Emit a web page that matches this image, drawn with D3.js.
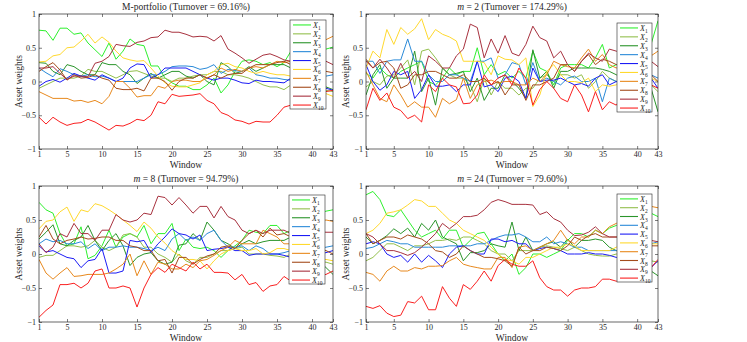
<!DOCTYPE html>
<meta charset="utf-8">
<html>
<head>
<script src="https://d3js.org/d3.v7.min.js"></script>
<style>
  body { margin: 0; background: #fff; }
  svg text { font-family: "Liberation Serif", "DejaVu Serif", "Times New Roman", serif !important; fill: #262626; }
</style>
</head>
<body>
<div id="chart"></div>
<script>

// windows 1..43
const windows = d3.range(1, 44);
const xTicks = [1, 5, 10, 15, 20, 25, 30, 35, 40, 43];
const yTicks = [-1, -0.5, 0, 0.5, 1];
const assetNames = ["1","2","3","4","5","6","7","8","9","10"];
const colors = ["#2ef02e","#93bf4c","#2b952b","#2a8ad8","#1c1cf5","#ffd92e","#e8891e","#a44c1c","#a8323f","#fa2020"];
const serif = '"Liberation Serif", "DejaVu Serif", serif';

// M-portfolio weights, X1..X10
const mPortfolio = [
  [0.76,0.75,0.61,0.79,0.79,0.70,0.72,0.57,0.47,0.37,0.57,0.33,0.45,0.63,0.55,0.53,0.23,0.23,0.05,-0.02,-0.07,-0.07,-0.12,-0.12,-0.05,0.05,-0.17,-0.05,0.15,0.30,0.32,0.30,0.25,0.28,0.22,0.28,0.45,0.42,0.40,0.44,0.46,0.48,0.51],
  [-0.10,-0.05,0.00,0.05,0.05,0.05,0.08,0.18,0.15,0.15,0.10,0.05,0.10,0.15,0.16,0.12,0.08,0.05,0.05,0.00,0.05,0.05,0.08,0.10,0.10,0.15,0.15,0.10,0.10,0.08,0.05,0.00,-0.05,-0.08,-0.08,-0.12,-0.05,-0.08,-0.10,-0.12,-0.10,-0.13,-0.15],
  [0.28,0.27,0.15,0.10,0.25,0.22,0.15,0.10,0.10,0.28,0.25,0.25,0.15,0.10,-0.03,0.05,0.12,0.05,0.10,0.15,0.15,0.08,0.05,0.10,0.00,-0.05,0.28,0.22,0.12,0.15,0.22,0.15,0.20,0.25,0.25,0.25,0.20,0.12,0.05,0.00,-0.05,-0.08,-0.12],
  [0.20,0.13,0.07,0.19,0.15,0.10,0.08,0.10,0.07,0.08,0.05,0.00,0.00,0.00,0.00,0.05,0.10,0.10,0.15,0.22,0.23,0.23,0.22,0.18,0.20,0.25,0.12,0.18,0.16,0.15,0.20,0.10,0.08,0.05,0.05,0.03,0.02,0.03,0.05,0.06,0.08,0.08,0.10],
  [-0.07,0.00,0.03,-0.01,0.05,0.12,0.08,0.05,0.02,0.10,0.05,0.00,0.05,0.20,0.26,0.25,0.05,0.10,0.20,0.20,0.20,0.20,0.15,0.10,0.05,0.02,0.05,0.05,0.02,-0.02,-0.03,0.02,0.00,0.00,-0.01,-0.02,0.05,0.02,-0.02,-0.05,-0.08,-0.10,-0.13],
  [0.29,0.30,0.38,0.40,0.50,0.51,0.60,0.70,0.57,0.66,0.58,0.45,0.35,0.32,0.30,0.31,0.20,0.08,-0.02,-0.07,-0.08,-0.08,-0.05,-0.02,0.10,0.15,0.25,0.27,0.22,0.20,0.15,0.12,0.15,0.12,0.10,0.10,0.08,0.02,-0.05,-0.10,-0.15,-0.18,-0.22],
  [-0.15,-0.20,-0.25,-0.25,-0.25,-0.29,-0.28,-0.31,-0.28,-0.33,-0.22,0.00,0.00,-0.10,-0.23,-0.21,-0.21,-0.07,-0.10,0.00,0.02,0.02,0.00,0.00,0.05,0.10,0.20,0.15,0.18,0.15,0.20,0.22,0.20,0.25,0.30,0.28,0.30,0.38,0.45,0.52,0.57,0.62,0.67],
  [0.15,0.22,0.28,0.17,0.02,0.10,0.05,0.06,0.10,0.05,0.02,-0.10,-0.12,-0.12,-0.10,-0.14,0.05,0.05,0.00,-0.13,0.00,0.05,0.05,0.10,0.05,0.10,0.05,0.10,0.12,0.12,0.20,0.25,0.25,0.25,0.28,0.30,0.25,0.22,0.20,0.18,0.15,0.15,0.13],
  [0.20,0.20,0.22,0.12,0.03,0.08,0.08,0.07,0.27,0.30,0.37,0.55,0.53,0.52,0.58,0.60,0.65,0.66,0.76,0.73,0.73,0.70,0.66,0.67,0.66,0.60,0.68,0.48,0.42,0.35,0.27,0.33,0.39,0.41,0.37,0.32,0.30,0.32,0.30,0.28,0.30,0.30,0.25],
  [-0.53,-0.63,-0.53,-0.60,-0.65,-0.62,-0.61,-0.56,-0.60,-0.66,-0.72,-0.65,-0.66,-0.62,-0.56,-0.58,-0.50,-0.30,-0.33,-0.19,-0.22,-0.21,-0.20,-0.18,-0.28,-0.33,-0.46,-0.50,-0.57,-0.59,-0.63,-0.59,-0.60,-0.60,-0.50,-0.38,-0.35,-0.30,-0.25,-0.20,-0.18,-0.15,-0.13]
];

// m = 2
const m2 = [
  [0.12,0.05,0.20,0.10,0.05,0.15,0.20,0.25,0.30,0.00,-0.05,0.05,0.20,0.10,0.15,0.15,0.50,0.10,0.25,0.10,0.15,0.05,0.15,0.05,0.45,0.20,0.15,-0.05,0.20,0.25,0.25,0.25,0.20,0.35,0.55,0.20,0.25,0.30,0.40,0.35,0.45,0.55,0.90],
  [-0.08,0.00,-0.05,0.08,0.10,0.20,0.32,-0.05,0.45,0.48,0.35,0.20,0.10,0.05,0.05,-0.05,-0.30,0.05,-0.20,0.00,-0.10,-0.10,-0.20,-0.10,-0.10,0.05,0.10,0.00,0.10,0.10,0.05,0.10,-0.10,0.00,0.15,0.05,0.00,0.05,-0.05,0.00,-0.10,-0.05,-0.15],
  [-0.20,0.10,0.25,-0.10,0.05,0.05,0.05,0.45,-0.15,0.05,-0.35,0.20,0.10,0.12,0.15,-0.15,0.05,-0.28,-0.10,-0.10,0.10,0.00,-0.10,-0.25,0.47,0.05,0.15,-0.10,0.15,0.15,0.20,0.20,0.20,0.20,0.18,0.15,0.10,0.05,0.10,0.00,0.05,-0.10,-0.45],
  [0.30,0.30,0.12,0.30,0.32,0.32,0.63,0.30,0.30,0.10,0.00,0.00,0.10,0.10,0.05,0.00,0.30,0.30,0.35,0.05,0.10,0.28,0.25,-0.05,0.28,0.00,0.05,0.00,-0.05,0.05,0.08,0.00,0.00,0.05,-0.30,0.05,0.00,0.10,-0.05,0.05,0.00,0.10,0.05],
  [0.25,0.00,-0.13,-0.05,0.15,0.10,0.15,-0.25,-0.12,0.10,-0.07,-0.07,-0.05,-0.15,-0.05,-0.05,0.30,-0.08,-0.05,-0.15,0.05,0.08,0.00,-0.25,0.20,0.00,0.02,0.02,0.05,0.00,-0.05,-0.03,-0.07,0.05,0.10,-0.05,0.00,-0.10,0.05,-0.45,0.00,0.05,-0.10],
  [0.20,0.45,0.35,0.77,0.55,0.80,0.70,0.78,0.93,0.62,0.77,0.70,0.66,0.60,0.30,0.30,0.30,0.28,0.10,0.38,0.33,0.32,0.25,0.35,-0.37,-0.20,0.15,0.25,0.10,0.00,0.00,-0.02,0.05,-0.15,-0.05,-0.07,-0.05,0.05,0.10,0.05,0.00,0.05,0.00],
  [0.15,-0.05,-0.25,-0.30,-0.05,-0.20,-0.38,-0.30,-0.38,-0.38,-0.53,-0.25,-0.33,-0.27,0.05,-0.25,-0.05,0.00,0.02,-0.02,0.00,0.00,-0.05,-0.05,0.05,0.00,0.10,0.30,0.25,0.22,0.20,0.35,0.48,0.30,0.40,0.25,0.20,0.30,0.35,0.25,0.40,0.38,0.45],
  [0.33,0.20,0.28,0.30,0.20,-0.10,-0.05,0.10,0.10,0.15,0.15,0.10,0.05,0.05,0.10,0.00,0.00,0.05,-0.05,0.00,-0.20,-0.05,-0.05,-0.28,-0.05,-0.05,0.00,0.05,0.25,0.25,0.15,0.30,0.40,0.25,0.33,0.30,0.25,0.20,0.10,0.15,0.05,0.10,0.00],
  [0.30,0.20,0.33,0.20,0.05,0.27,0.05,0.15,0.00,0.38,0.30,0.20,0.20,0.38,0.48,0.85,0.80,0.35,0.63,0.42,0.68,0.42,0.38,0.55,0.82,0.65,0.60,0.35,0.45,0.25,0.15,0.30,0.42,0.35,0.30,0.48,0.45,0.40,0.35,0.30,0.38,0.30,0.22],
  [-0.42,-0.10,-0.28,-0.17,-0.38,-0.43,-0.55,-0.50,-0.60,-0.05,-0.15,0.05,-0.05,-0.08,-0.33,-0.32,-0.20,0.10,-0.05,0.05,0.10,-0.05,0.20,0.05,-0.35,-0.12,0.00,-0.10,-0.25,-0.30,-0.05,-0.20,-0.45,-0.15,-0.42,-0.30,-0.35,-0.20,-0.30,-0.25,-0.15,-0.05,-0.10]
];

// m = 8
const m8 = [
  [0.76,0.65,0.60,0.30,0.12,0.15,0.40,-0.07,-0.02,0.12,0.35,0.10,0.25,0.30,0.25,0.42,0.15,0.30,0.30,0.45,0.05,0.22,0.10,0.08,0.10,0.05,-0.05,0.05,0.12,0.20,0.35,0.32,0.30,0.42,0.42,0.30,0.35,0.45,0.50,0.55,0.60,0.63,0.65],
  [-0.05,-0.02,-0.02,0.05,0.12,0.12,0.10,0.12,0.20,0.10,0.05,0.10,0.28,0.30,0.25,0.10,0.10,0.00,-0.05,-0.12,0.00,-0.10,-0.15,-0.05,-0.05,0.00,0.05,0.05,0.08,0.10,0.00,0.00,0.00,-0.02,-0.03,-0.05,0.00,-0.05,-0.08,-0.10,-0.12,-0.12,-0.15],
  [0.22,0.32,0.43,0.15,0.12,0.20,0.25,0.42,0.20,0.05,0.20,0.30,0.12,-0.17,-0.05,0.00,0.02,-0.10,-0.15,-0.12,0.13,0.15,0.30,0.20,0.47,0.35,0.20,0.15,0.08,0.15,0.20,0.15,0.18,0.20,0.20,0.20,0.25,0.15,0.05,0.00,-0.10,-0.20,-0.30],
  [0.15,0.22,0.18,0.20,0.15,0.15,0.18,0.08,0.15,0.05,0.10,0.10,0.12,0.10,0.10,0.08,0.05,0.10,0.05,0.22,0.30,0.20,0.25,0.20,0.30,0.35,0.20,0.10,0.10,0.12,0.05,0.12,0.08,0.00,0.00,0.02,0.05,0.08,0.05,0.10,0.08,0.10,0.12],
  [0.12,0.03,0.05,0.00,-0.05,-0.07,-0.20,-0.10,-0.08,0.08,-0.28,-0.28,-0.25,0.20,0.18,0.20,0.02,0.15,0.25,0.37,0.30,0.28,0.22,0.28,0.05,0.07,0.08,0.10,0.05,0.05,-0.02,0.00,0.00,0.00,0.00,-0.02,-0.05,-0.02,0.00,-0.05,0.00,0.02,0.05],
  [0.37,0.48,0.50,0.62,0.69,0.48,0.65,0.62,0.74,0.71,0.65,0.58,0.50,0.42,0.33,0.47,0.38,0.25,0.16,0.05,-0.02,-0.08,-0.08,-0.10,-0.22,-0.10,0.00,0.05,0.08,0.05,0.05,0.08,0.00,0.02,0.08,0.08,0.05,0.00,-0.02,-0.05,-0.08,-0.08,-0.10],
  [-0.08,-0.28,-0.37,-0.28,-0.20,-0.33,-0.32,-0.30,-0.30,-0.30,-0.28,-0.22,-0.15,0.00,-0.32,-0.10,-0.30,-0.12,-0.15,-0.22,-0.22,-0.15,-0.20,-0.10,-0.08,-0.02,0.05,0.10,0.20,0.15,0.15,0.15,0.35,0.30,0.25,0.15,0.15,0.30,0.40,0.45,0.48,0.50,0.48],
  [0.25,0.42,0.22,0.15,0.20,0.22,0.25,0.22,0.23,0.25,0.25,0.20,0.20,0.12,0.10,0.05,0.05,-0.10,-0.08,-0.28,-0.05,-0.05,-0.15,-0.08,-0.03,0.00,0.10,0.12,0.08,0.20,0.30,0.35,0.25,0.38,0.28,0.30,0.25,0.20,0.15,0.12,0.08,0.05,0.00],
  [0.15,0.02,0.10,0.30,0.25,0.45,0.30,0.30,0.20,0.35,0.35,0.58,0.50,0.47,0.50,0.60,0.58,0.85,0.83,0.72,0.83,0.72,0.60,0.70,0.70,0.53,0.70,0.55,0.50,0.35,0.30,0.35,0.30,0.35,0.35,0.35,0.30,0.28,0.32,0.30,0.33,0.32,0.32],
  [-0.93,-0.83,-0.75,-0.45,-0.45,-0.43,-0.50,-0.43,-0.25,-0.22,-0.50,-0.50,-0.47,-0.50,-0.78,-0.50,-0.30,-0.20,-0.27,-0.15,-0.20,-0.25,-0.12,-0.22,-0.15,-0.27,-0.27,-0.28,-0.38,-0.30,-0.45,-0.42,-0.55,-0.47,-0.45,-0.33,-0.40,-0.38,-0.35,-0.40,-0.32,-0.30,-0.25]
];

// m = 24
const m24 = [
  [0.87,0.92,0.80,0.57,0.55,0.65,0.50,0.35,0.25,0.30,0.35,0.22,0.35,0.35,0.10,0.20,0.30,0.32,0.15,0.00,-0.10,0.00,-0.30,-0.20,0.00,0.00,-0.05,0.00,0.05,0.20,0.30,0.30,0.25,0.35,0.30,0.38,0.42,0.45,0.50,0.55,0.58,0.60,0.55],
  [-0.10,-0.05,0.05,0.15,0.15,0.10,0.05,0.12,0.12,0.15,0.20,0.20,0.22,0.20,0.25,0.25,0.20,0.15,0.05,0.00,0.00,-0.10,0.05,0.05,0.05,0.10,0.12,0.10,0.08,0.05,0.10,0.05,0.00,-0.02,-0.03,-0.03,0.00,-0.03,-0.05,-0.08,-0.10,-0.10,-0.12],
  [0.25,0.15,0.20,0.27,0.37,0.30,0.38,0.25,0.45,0.35,0.50,0.25,0.20,0.15,-0.10,0.02,0.02,0.05,0.15,0.12,0.10,0.47,0.05,0.25,0.05,0.10,0.15,0.18,0.10,0.22,0.10,0.20,0.20,0.22,0.20,0.10,0.05,0.00,-0.05,-0.10,-0.15,-0.25,-0.32],
  [0.08,0.10,0.15,0.20,0.18,0.15,0.15,0.10,0.10,0.10,0.10,0.10,0.12,0.12,0.12,0.12,0.15,0.15,0.20,0.25,0.28,0.28,0.30,0.25,0.18,0.18,0.25,0.15,0.18,0.15,0.10,0.10,0.05,0.05,0.05,0.05,0.05,0.08,0.10,0.12,0.15,0.15,0.18],
  [0.15,0.18,0.15,0.00,-0.05,-0.02,-0.12,0.00,-0.12,-0.02,-0.10,-0.20,0.00,0.10,0.12,0.05,0.00,0.00,0.22,0.22,0.18,0.20,0.15,0.15,0.05,0.08,0.10,0.08,0.05,0.00,0.00,0.00,0.02,0.00,0.00,-0.02,-0.05,-0.05,-0.08,-0.10,-0.12,-0.20,-0.10],
  [0.30,0.35,0.45,0.60,0.62,0.65,0.72,0.80,0.78,0.70,0.70,0.60,0.50,0.45,0.35,0.30,0.25,0.20,0.10,0.00,-0.08,-0.10,-0.15,-0.05,-0.05,0.00,0.05,0.10,0.10,0.15,0.12,0.05,0.05,0.05,0.05,0.05,0.10,0.12,0.15,0.15,0.18,0.15,0.15],
  [-0.27,-0.30,-0.40,-0.25,-0.18,-0.25,-0.25,-0.20,-0.22,-0.18,-0.18,-0.17,-0.10,-0.05,-0.15,-0.18,-0.20,-0.22,-0.22,-0.05,-0.05,-0.20,0.10,0.12,0.05,0.10,0.15,0.20,0.35,0.20,0.15,0.25,0.25,0.35,0.30,0.40,0.45,0.50,0.55,0.60,0.65,0.70,0.68],
  [0.30,0.15,0.20,0.25,0.25,0.22,0.28,0.25,0.22,0.15,0.05,0.03,-0.05,0.00,0.12,0.05,0.00,-0.05,-0.05,-0.07,-0.10,-0.18,0.10,0.00,0.05,0.05,0.10,0.08,0.05,0.12,0.25,0.20,0.27,0.30,0.25,0.25,0.25,0.22,0.20,0.18,0.15,0.12,0.12],
  [0.30,0.25,0.15,0.05,0.05,0.02,-0.02,0.02,0.10,0.20,0.30,0.45,0.37,0.45,0.55,0.55,0.57,0.65,0.76,0.80,0.77,0.73,0.73,0.73,0.72,0.58,0.62,0.52,0.47,0.35,0.27,0.28,0.32,0.40,0.30,0.25,0.25,0.28,0.25,0.22,0.20,0.20,0.18],
  [-0.77,-0.80,-0.76,-0.87,-0.92,-0.90,-0.70,-0.72,-0.62,-0.82,-0.82,-0.48,-0.65,-0.77,-0.45,-0.52,-0.40,-0.25,-0.40,-0.17,-0.08,-0.15,-0.18,-0.18,-0.10,-0.35,-0.48,-0.53,-0.53,-0.62,-0.53,-0.50,-0.50,-0.48,-0.37,-0.37,-0.40,-0.38,-0.35,-0.30,-0.25,-0.20,-0.08]
];

// panel layout (px)
const panels = [
  {data: mPortfolio, title: [["M-portfolio (Turnover = 69.16%)", false]],
   x0: 39, x1: 333, y0: 14, y1: 149, legend: {x: 290, y: 20, w: 36, h: 89}},
  {data: m2, title: [["m", true], [" = 2 (Turnover = 174.29%)", false]],
   x0: 366, x1: 658, y0: 14, y1: 149, legend: {x: 617, y: 23, w: 35, h: 89}},
  {data: m8, title: [["m", true], [" = 8 (Turnover = 94.79%)", false]],
   x0: 39, x1: 333, y0: 186, y1: 322, legend: {x: 289, y: 195, w: 36, h: 89}},
  {data: m24, title: [["m", true], [" = 24 (Turnover = 79.60%)", false]],
   x0: 366, x1: 658, y0: 186, y1: 322, legend: {x: 617, y: 194, w: 35, h: 88}}
];

const svg = d3.select("#chart").append("svg")
  .attr("width", 747)
  .attr("height", 342)
  .attr("font-family", serif);

panels.forEach((p, pi) => {
  const x = d3.scaleLinear().domain([1, 43]).range([p.x0, p.x1]);
  const y = d3.scaleLinear().domain([-1, 1]).range([p.y1, p.y0]);
  const g = svg.append("g");

  g.append("clipPath").attr("id", "clip" + pi)
    .append("rect")
      .attr("x", p.x0).attr("y", p.y0)
      .attr("width", p.x1 - p.x0).attr("height", p.y1 - p.y0);

  // lines
  const line = d3.line()
    .x((d, i) => x(windows[i]))
    .y(d => y(d));
  g.append("g")
    .attr("clip-path", `url(#clip${pi})`)
    .selectAll("path")
    .data(p.data)
    .join("path")
      .attr("fill", "none")
      .attr("stroke", (d, i) => colors[i])
      .attr("stroke-width", 1)
      .attr("stroke-linejoin", "round")
      .attr("d", line);

  // axes, ticks pointing inward
  const bottom = g.append("g")
    .attr("transform", `translate(0,${p.y1})`)
    .call(d3.axisBottom(x).tickValues(xTicks).tickSizeInner(-3).tickSizeOuter(0).tickPadding(2));
  g.append("g")
    .attr("transform", `translate(0,${p.y0})`)
    .call(d3.axisTop(x).tickValues(xTicks).tickSizeInner(-3).tickSizeOuter(0).tickFormat(""));
  g.append("g")
    .attr("transform", `translate(${p.x0},0)`)
    .call(d3.axisLeft(y).tickValues(yTicks).tickSizeInner(-3).tickSizeOuter(0).tickPadding(3).tickFormat(d3.format("")));
  g.append("g")
    .attr("transform", `translate(${p.x1},0)`)
    .call(d3.axisRight(y).tickValues(yTicks).tickSizeInner(-3).tickSizeOuter(0).tickFormat(""));

  g.selectAll(".domain").remove();
  g.selectAll("g").attr("font-family", serif);
  g.selectAll(".tick line").attr("stroke", "#262626").attr("stroke-width", 0.6);
  g.selectAll(".tick text")
    .attr("font-family", serif)
    .attr("font-size", 8)
    .attr("fill", "#262626");
  bottom.selectAll(".tick text").attr("dy", "0.72em");

  // box
  g.append("rect")
    .attr("x", p.x0).attr("y", p.y0)
    .attr("width", p.x1 - p.x0).attr("height", p.y1 - p.y0)
    .attr("fill", "none")
    .attr("stroke", "#262626")
    .attr("stroke-width", 0.7);

  // title
  const t = g.append("text")
    .attr("x", (p.x0 + p.x1) / 2)
    .attr("y", p.y0 - 4)
    .attr("text-anchor", "middle")
    .attr("font-family", serif)
    .attr("font-size", 9.5);
  p.title.forEach(([s, it]) => {
    t.append("tspan").text(s).attr("font-style", it ? "italic" : "normal");
  });

  // axis labels
  g.append("text")
    .attr("x", (p.x0 + p.x1) / 2)
    .attr("y", p.y1 + 19)
    .attr("text-anchor", "middle")
    .attr("font-family", serif)
    .attr("font-size", 9.5)
    .text("Window");
  g.append("text")
    .attr("transform", `translate(${p.x0 - 17},${(p.y0 + p.y1) / 2}) rotate(-90)`)
    .attr("text-anchor", "middle")
    .attr("font-family", serif)
    .attr("font-size", 9.5)
    .text("Asset weights");

  // legend
  const L = p.legend;
  const lg = g.append("g");
  lg.append("rect")
    .attr("x", L.x).attr("y", L.y)
    .attr("width", L.w).attr("height", L.h)
    .attr("fill", "#fff")
    .attr("stroke", "#262626")
    .attr("stroke-width", 0.6);
  const rowH = L.h / 10;
  assetNames.forEach((n, i) => {
    const cy = L.y + rowH * (i + 0.5) + 0.5;
    lg.append("line")
      .attr("x1", L.x + 3).attr("x2", L.x + 21)
      .attr("y1", cy).attr("y2", cy)
      .attr("stroke", colors[i])
      .attr("stroke-width", 1.1);
    const lt = lg.append("text")
      .attr("x", L.x + 23)
      .attr("y", cy + 3)
      .attr("font-family", serif)
      .attr("font-size", 8);
    lt.append("tspan").text("X").attr("font-style", "italic");
    lt.append("tspan").text(n).attr("dy", 2).attr("font-size", 5.5);
  });
});

</script>
</body>
</html>
